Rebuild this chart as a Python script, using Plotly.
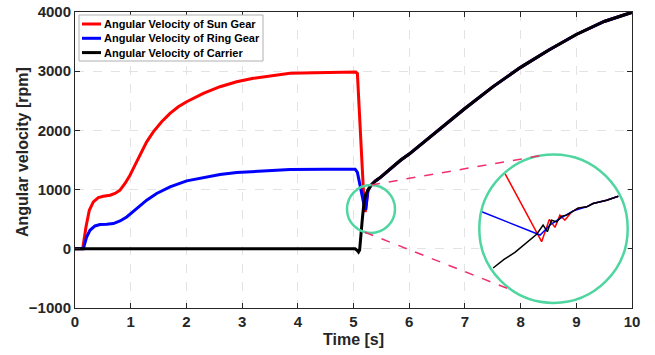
import numpy as np
import plotly.graph_objects as go

# ---------------- main data ----------------
t_sun = [0, 0.138, 0.197, 0.257, 0.329, 0.419, 0.509, 0.628, 0.718, 0.808, 0.898, 0.987,
         1.077, 1.167, 1.287, 1.406, 1.556, 1.706, 1.855, 2.005, 2.304, 2.603, 2.902, 3.201,
         3.501, 3.860, 4.3, 4.7, 5.04, 5.07, 5.12, 5.165, 5.19, 5.21]
v_sun = [0, 0, 369, 651, 792, 866, 888, 905, 934, 990, 1103, 1244,
         1413, 1582, 1807, 1976, 2146, 2287, 2399, 2484, 2626, 2738, 2822, 2880,
         2924, 2964, 2975, 2980, 2985, 2960, 2060, 1046, 770, 620]

t_ring = [0, 0.150, 0.209, 0.269, 0.359, 0.449, 0.569, 0.688, 0.808, 0.928, 1.107, 1.287,
          1.466, 1.706, 2.005, 2.304, 2.603, 2.902, 3.501, 3.860, 4.5, 5.03, 5.07, 5.10,
          5.13, 5.16, 5.19, 5.22]
v_ring = [0, 0, 200, 313, 386, 409, 414, 426, 471, 538, 680, 821,
          934, 1046, 1147, 1205, 1255, 1289, 1328, 1340, 1343, 1345, 1290, 1150,
          1000, 880, 740, 660]

t_car = [0, 5.03, 5.07, 5.09, 5.11, 5.13, 5.16, 5.19, 5.22, 5.26, 5.31, 5.40, 5.49,
         5.67, 5.85, 6.0, 6.5, 7.0, 7.5, 8.0, 8.5, 9.0, 9.5, 10.0]
v_car = [0, 0, -30, -55, -20, 150, 520, 800, 920, 990, 1070, 1150, 1210,
         1360, 1500, 1600, 1985, 2370, 2735, 3065, 3355, 3620, 3840, 3995]

# ---------------- inset (magnified) data ----------------
zoom_t_sun = [5.152, 5.226, 5.2415, 5.253, 5.263, 5.273, 5.287, 5.2995, 5.317, 5.330, 5.3575, 5.381]
zoom_v_sun = [997, 630, 750, 707, 773, 746, 791, 811, 818, 836, 853, 875]
zoom_t_ring = [5.105, 5.223, 5.243, 5.263, 5.290, 5.317, 5.330, 5.3575, 5.381]
zoom_v_ring = [791, 666, 720, 755, 796, 818, 836, 853, 875]
zoom_t_car = [5.128, 5.150, 5.172, 5.195, 5.216, 5.229, 5.2375, 5.246, 5.2565, 5.2665, 5.277,
              5.2995, 5.317, 5.330, 5.3575, 5.381]
zoom_v_car = [488, 535, 572, 622, 670, 720, 684, 746, 737, 768, 773, 811, 818, 836, 853, 875]

names = ["Angular Velocity of Sun Gear", "Angular Velocity of Ring Gear", "Angular Velocity of Carrier"]
colors = ["#FF0000", "#0000FF", "#000000"]
x_title = "Time [s]"
y_title = "Angular velocity [rpm]"


def extend_with_carrier(t, v):
    t = np.asarray(t, float)
    v = np.asarray(v, float)
    tc = np.asarray(t_car, float)
    vc = np.asarray(v_car, float)
    m = tc > t[-1] + 0.03
    return np.concatenate([t, tc[m]]), np.concatenate([v, vc[m]])


ts, vs = extend_with_carrier(t_sun, v_sun)
tr, vr = extend_with_carrier(t_ring, v_ring)

fig = go.Figure()
for t, v, n, c in [(ts, vs, names[0], colors[0]), (tr, vr, names[1], colors[1]),
                   (t_car, v_car, names[2], colors[2])]:
    fig.add_trace(go.Scatter(x=t, y=v, mode="lines", name=n, showlegend=False,
                             line=dict(color=c, width=3)))

for t, v, c in [(zoom_t_sun, zoom_v_sun, colors[0]), (zoom_t_ring, zoom_v_ring, colors[1]),
                (zoom_t_car, zoom_v_car, colors[2])]:
    fig.add_trace(go.Scatter(x=t, y=v, mode="lines", showlegend=False,
                             line=dict(color=c, width=1.5), xaxis="x2", yaxis="y2"))

# ---------------- geometry ----------------
W, H = 655, 355
ML, MR, MT, MB = 75, 23, 12, 47
PW, PH = W - ML - MR, H - MT - MB


def to_paper(px, py):
    return (px - ML) / PW, (H - MB - py) / PH


# small circle (pixel centre / radius) and big inset circle
sc, sr = (371.0, 209.0), 24.0
bc, br = (553.5, 228.7), 74.2
bx0, by0 = to_paper(bc[0] - br, bc[1] + br)
bx1, by1 = to_paper(bc[0] + br, bc[1] - br)
sx0, sy0 = to_paper(sc[0] - sr, sc[1] + sr)
sx1, sy1 = to_paper(sc[0] + sr, sc[1] - sr)

green = "#4FD6A0"
pink = "#F0306E"
shapes = [
    dict(type="circle", xref="paper", yref="paper", x0=sx0, x1=sx1, y0=sy0, y1=sy1,
         line=dict(color=green, width=2.5), layer="above"),
    dict(type="circle", xref="paper", yref="paper", x0=bx0, x1=bx1, y0=by0, y1=by1,
         line=dict(color=green, width=2.5), layer="above"),
]


def circ_pt(c, r, ang):
    a = np.deg2rad(ang)
    return c[0] + r * np.cos(a), c[1] - r * np.sin(a)


for a_s, a_b in [(90, 100), (-105, -124)]:
    p1 = to_paper(*circ_pt(sc, sr, a_s))
    p2 = to_paper(*circ_pt(bc, br, a_b))
    shapes.append(dict(type="line", xref="paper", yref="paper", x0=p1[0], y0=p1[1],
                       x1=p2[0], y1=p2[1], line=dict(color=pink, width=1.5, dash="dash"),
                       layer="above"))

axcol = "#262626"
font_fam = "Liberation Sans, Arial, sans-serif"

# ---------------- compact legend (box, line samples, text) ----------------
annotations = []
lx0, ly0 = to_paper(79, 61)
lx1, ly1 = to_paper(263, 15)
shapes.append(dict(type="rect", xref="paper", yref="paper", x0=lx0, y0=ly0, x1=lx1, y1=ly1,
                   fillcolor="white", line=dict(color="#B0B0B0", width=1), layer="above"))
for i, (n, c) in enumerate(zip(names, colors)):
    row_y = 24 + i * 14.3
    a = to_paper(82, row_y)
    b = to_paper(101, row_y)
    shapes.append(dict(type="line", xref="paper", yref="paper", x0=a[0], y0=a[1],
                       x1=b[0], y1=b[1], line=dict(color=c, width=3), layer="above"))
    tp = to_paper(102, row_y)
    annotations.append(dict(text=n, xref="paper", yref="paper", x=tp[0], y=tp[1],
                            xanchor="left", yanchor="middle", showarrow=False,
                            font=dict(family=font_fam, size=11, color="#000000", weight="bold")))

ytx, yty = to_paper(22, 152)
annotations.append(dict(text=y_title, xref="paper", yref="paper", x=ytx, y=yty,
                        xanchor="center", yanchor="middle", textangle=-90, showarrow=False,
                        font=dict(family=font_fam, size=16, color=axcol, weight="bold")))

common = dict(showline=True, linecolor=axcol, linewidth=1, mirror="ticks", ticks="inside",
              ticklen=5, tickcolor=axcol, showgrid=True, gridcolor="#E3E3E3",
              griddash="dash", gridwidth=1, zeroline=False, automargin=False,
              tickfont=dict(family=font_fam, size=15, color=axcol, weight="bold"))

fig.update_layout(
    width=W, height=H,
    margin=dict(l=ML, r=MR, t=MT, b=MB, autoexpand=False),
    plot_bgcolor="white", paper_bgcolor="white",
    xaxis=dict(range=[0, 10], dtick=1, domain=[0, 1],
               title=dict(text=x_title, standoff=4,
                          font=dict(family=font_fam, size=16, color=axcol, weight="bold")),
               **common),
    yaxis=dict(range=[-1000, 4000], dtick=1000, domain=[0, 1], **common),
    xaxis2=dict(domain=[bx0, bx1], range=[5.10, 5.40], visible=False, anchor="y2"),
    yaxis2=dict(domain=[by0, by1], range=[300, 1100], visible=False, anchor="x2"),
    annotations=annotations,
    shapes=shapes,
    showlegend=False,
)

fig.write_html("out.html", config={"displayModeBar": False},
               post_script="document.body.style.margin='0';")
